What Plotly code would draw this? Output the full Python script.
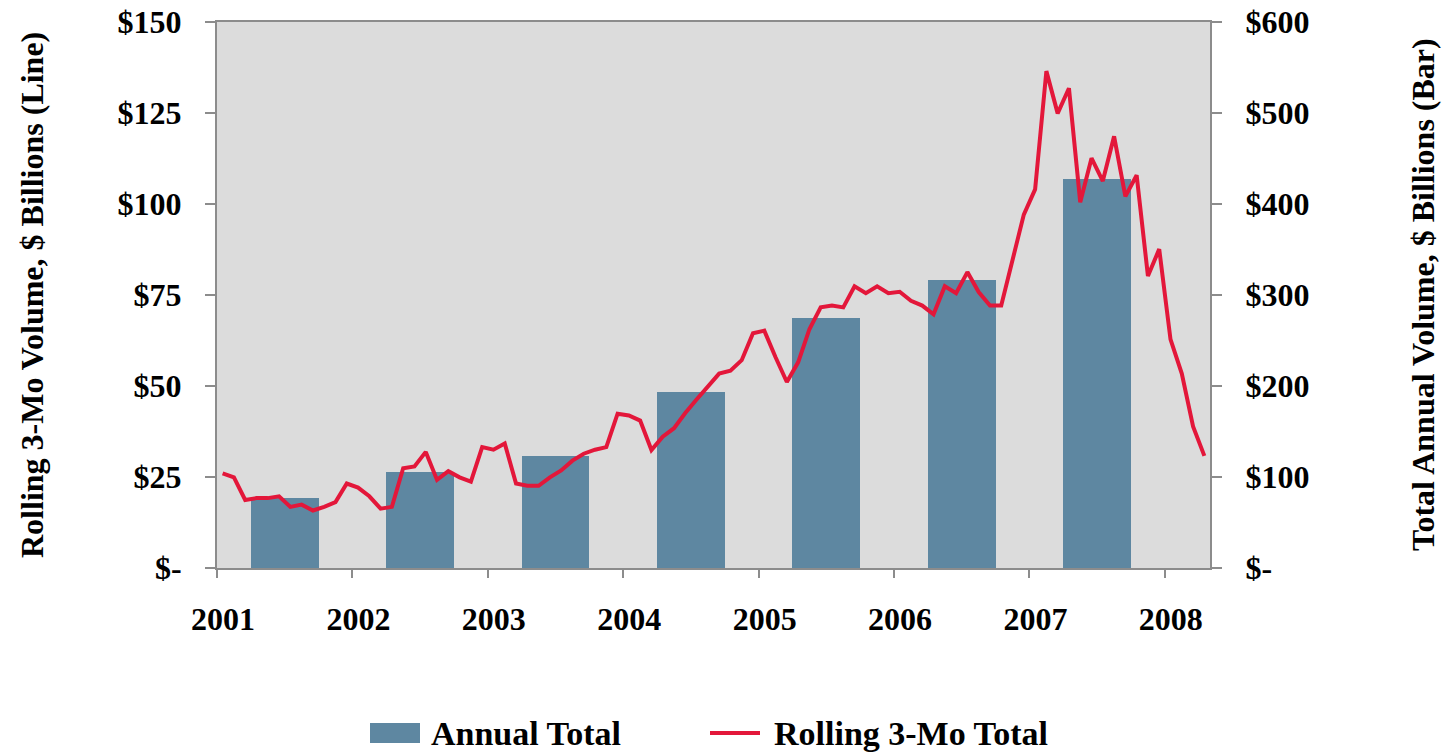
import plotly.graph_objects as go

# ---- data ----
years = [2001, 2002, 2003, 2004, 2005, 2006, 2007]
annual_total = [77, 105, 123, 193, 275, 316, 427]  # $ billions (right axis)

# Rolling 3-month total, monthly Jan 2001 .. Apr 2008, $ billions (left axis)
rolling_3mo = [
    26.0, 24.9, 18.7, 19.2, 19.2, 19.7, 16.8, 17.4, 15.8, 16.8, 18.1, 23.2,   # 2001
    22.1, 19.7, 16.3, 16.8, 27.4, 27.9, 31.9, 24.2, 26.6, 24.9, 23.7, 33.2,   # 2002
    32.5, 34.2, 23.2, 22.6, 22.6, 24.9, 26.8, 29.5, 31.4, 32.5, 33.2, 42.4,   # 2003
    41.9, 40.5, 32.4, 36.1, 38.4, 42.6, 46.3, 50.0, 53.4, 54.2, 57.1, 64.5,   # 2004
    65.2, 57.9, 51.1, 56.5, 65.6, 71.6, 72.1, 71.6, 77.4, 75.5, 77.4, 75.5,   # 2005
    75.9, 73.4, 72.1, 69.7, 77.4, 75.5, 81.3, 75.8, 72.1, 72.1, 84.7, 97.1,   # 2006
    104.0, 136.5, 124.9, 131.8, 100.5, 112.6, 106.3, 118.6, 102.1, 107.9, 80.2, 87.6,  # 2007
    62.8, 53.4, 38.9, 30.8,                                                    # 2008
]

x_tick_years = [2001, 2002, 2003, 2004, 2005, 2006, 2007, 2008]
x_tick_labels = [str(y) for y in x_tick_years]
left_ticks = [0, 25, 50, 75, 100, 125, 150]
left_labels = ["$-", "$25", "$50", "$75", "$100", "$125", "$150"]
right_ticks = [0, 100, 200, 300, 400, 500, 600]
right_labels = ["$-", "$100", "$200", "$300", "$400", "$500", "$600"]
series_names = ["Annual Total", "Rolling 3-Mo Total"]
left_title = "Rolling 3-Mo Volume, $ Billions (Line)"
right_title = "Total Annual Volume, $ Billions (Bar)"

# ---- positions (fractional years, mid-month / mid-year) ----
first_year = 2001
month_x = [first_year + (i + 0.5) / 12 for i in range(len(rolling_3mo))]
bar_x = [y + 0.5 for y in years]
x_end = first_year + len(rolling_3mo) / 12

FONT = "Liberation Serif, Times New Roman, serif"
BAR_COLOR = "#5E87A1"
LINE_COLOR = "#E3173A"
AXIS_COLOR = "#8C8C8C"

W, H = 1451, 754
ML, MR, MT, MB = 217, 241, 22, 186
PW, PH = W - ML - MR, H - MT - MB


def px_x(px):
    return (px - ML) / PW


def px_y(py):
    return (H - MB - py) / PH


fig = go.Figure()
fig.add_trace(go.Bar(
    x=bar_x, y=annual_total, width=0.5, name=series_names[0],
    marker=dict(color=BAR_COLOR, line=dict(width=0)),
    yaxis="y", showlegend=False,
))
fig.add_trace(go.Scatter(
    x=month_x, y=rolling_3mo, mode="lines", name=series_names[1],
    line=dict(color=LINE_COLOR, width=4),
    yaxis="y2", showlegend=False,
))

tick_font = dict(family=FONT, size=32, color="black", weight="bold")
title_font = dict(family=FONT, size=32, color="black", weight="bold")
legend_font = dict(family=FONT, size=34, color="black", weight="bold")

fig.update_layout(
    width=W, height=H,
    margin=dict(l=ML, r=MR, t=MT, b=MB, autoexpand=False),
    paper_bgcolor="white",
    plot_bgcolor="#DCDCDC",
    font=dict(family=FONT, size=32, color="black", weight="bold"),
    showlegend=False,
    xaxis=dict(
        range=[first_year, x_end], automargin=False,
        tickmode="array", tickvals=x_tick_years, ticktext=x_tick_labels,
        ticks="outside", ticklen=8, tickcolor=AXIS_COLOR, tickwidth=1.5,
        ticklabelshift=6, ticklabelstandoff=14,
        showline=True, linecolor=AXIS_COLOR, linewidth=2, mirror=True,
        showgrid=False, zeroline=False,
        tickfont=tick_font,
    ),
    yaxis=dict(
        side="right", range=[0, 600], automargin=False,
        tickmode="array", tickvals=right_ticks, ticktext=right_labels,
        ticks="outside", ticklen=10, tickcolor=AXIS_COLOR, tickwidth=1.5,
        ticklabelstandoff=17,
        showline=True, linecolor=AXIS_COLOR, linewidth=2,
        showgrid=False, zeroline=False,
        tickfont=tick_font,
    ),
    yaxis2=dict(
        side="left", overlaying="y", range=[0, 150], automargin=False,
        tickmode="array", tickvals=left_ticks, ticktext=left_labels,
        ticks="outside", ticklen=10, tickcolor=AXIS_COLOR, tickwidth=1.5,
        ticklabelstandoff=17,
        showline=True, linecolor=AXIS_COLOR, linewidth=2,
        showgrid=False, zeroline=False,
        tickfont=tick_font,
    ),
    bargap=0,
)

# axis titles
fig.add_annotation(text=left_title, xref="paper", yref="paper",
                   x=px_x(32), y=0.5, textangle=-90, showarrow=False,
                   xanchor="center", yanchor="middle", font=title_font)
fig.add_annotation(text=right_title, xref="paper", yref="paper",
                   x=px_x(1423), y=0.5, textangle=-90, showarrow=False,
                   xanchor="center", yanchor="middle", font=title_font)

# legend (bottom)
leg_y = 733
fig.add_shape(type="rect", xref="paper", yref="paper",
              x0=px_x(370), x1=px_x(420), y0=px_y(leg_y + 10), y1=px_y(leg_y - 10),
              fillcolor=BAR_COLOR, line=dict(width=0))
fig.add_annotation(text=series_names[0], xref="paper", yref="paper",
                   x=px_x(429), y=px_y(leg_y), showarrow=False,
                   xanchor="left", yanchor="middle", font=legend_font)
fig.add_shape(type="line", xref="paper", yref="paper",
              x0=px_x(710), x1=px_x(760), y0=px_y(leg_y), y1=px_y(leg_y),
              line=dict(color=LINE_COLOR, width=4))
fig.add_annotation(text=series_names[1], xref="paper", yref="paper",
                   x=px_x(772), y=px_y(leg_y), showarrow=False,
                   xanchor="left", yanchor="middle", font=legend_font)

fig.write_html(
    "out.html",
    config={"displayModeBar": False},
    post_script="document.body.style.margin='0';document.body.style.overflow='hidden';",
)
